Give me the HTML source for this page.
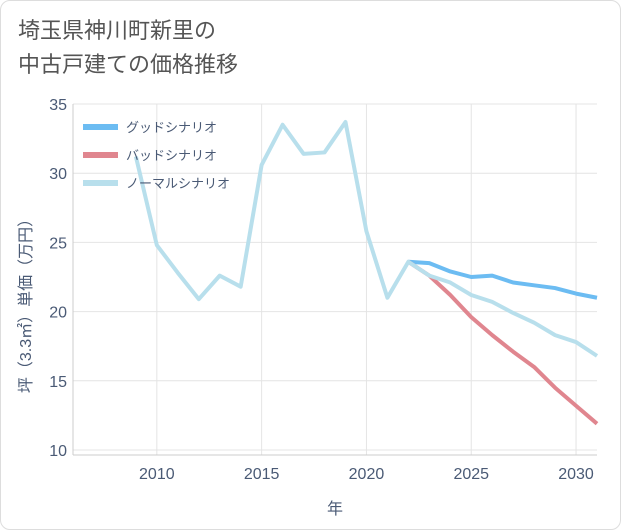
<!DOCTYPE html>
<html><head><meta charset="utf-8"><style>
body{margin:0;background:#fff;}
#wrap{position:relative;width:621px;height:530px;font-family:"Liberation Sans","Noto Sans CJK JP",sans-serif;}
#border{position:absolute;left:0;top:0;width:619px;height:528px;border:1px solid #ddd;border-radius:10px;}
#title{position:absolute;left:18px;top:14px;font-size:22px;line-height:34px;color:#555;}
</style></head><body>
<div id="wrap">
<div id="border"></div>
<div id="title">埼玉県神川町新里の<br>中古戸建ての価格推移</div>
<svg id="chart" width="621" height="530" style="position:absolute;left:0;top:0"></svg>
</div>
<script>
const years=[2009,2010,2011,2012,2013,2014,2015,2016,2017,2018,2019,2020,2021,2022,2023,2024,2025,2026,2027,2028,2029,2030,2031];
const normalVals=[31.2,24.8,22.8,20.9,22.6,21.8,30.6,33.5,31.4,31.5,33.7,25.8,21.0,23.6,22.6,22.1,21.2,20.7,19.9,19.2,18.3,17.8,16.8];
const futureYears=[2022,2023,2024,2025,2026,2027,2028,2029,2030,2031];
const goodVals=[23.6,23.5,22.9,22.5,22.6,22.1,21.9,21.7,21.3,21.0];
const badVals=[23.6,22.6,21.2,19.6,18.3,17.1,16.0,14.5,13.2,11.9];
const xTicks=[2010,2015,2020,2025,2030];
const yTicks=[10,15,20,25,30,35];
const NS="http://www.w3.org/2000/svg";
const svg=document.getElementById('chart');
const X0=73,X1=597,Y0=104,Y1=455;
const x=v=>X0+(v-2006)*(X1-X0)/25;
const y=v=>450-(v-10)*(450-104)/25;
function mk(t,a){const e=document.createElementNS(NS,t);for(const k in a)e.setAttribute(k,a[k]);svg.appendChild(e);return e;}
xTicks.forEach(t=>{const l=mk('line',{x1:x(t),x2:x(t),y1:Y0,y2:Y1,stroke:'#e4e4e4'});

const tx=mk('text',{x:x(t),y:479,'text-anchor':'middle','font-size':16,fill:'#4a5a75'});tx.textContent=t;
});
yTicks.forEach(t=>{const l=mk('line',{x1:X0,x2:X1,y1:y(t),y2:y(t),stroke:'#e4e4e4'});

const tx=mk('text',{x:67,y:y(t)+6,'text-anchor':'end','font-size':16,fill:'#4a5a75'});tx.textContent=t;
});
const ax=mk('line',{x1:X0,x2:X0,y1:Y0,y2:Y1,stroke:'#ccc'});
const ax2=mk('line',{x1:X0,x2:X1,y1:Y1,y2:Y1,stroke:'#ccc'});
const xt=mk('text',{x:335,y:514,'text-anchor':'middle','font-size':16,fill:'#4a5a75'});xt.textContent='年';

const yt=mk('text',{x:0,y:0,'text-anchor':'middle','font-size':16,fill:'#4a5a75',transform:'translate(31,302) rotate(-90)'});yt.textContent='坪（3.3㎡）単価（万円）';

function line(xs,vs,c,name){const p=mk('polyline',{points:xs.map((t,i)=>x(t)+','+y(vs[i])).join(' '),fill:'none',stroke:c,'stroke-width':4,'stroke-linejoin':'round'});
}
const g2=mk('line',{x1:x(2021),y1:y(21.0),x2:x(2022),y2:y(23.6),stroke:'#999','stroke-width':2});

line(futureYears,goodVals,'#6cbcf2','good-scenario-line');
line(futureYears,badVals,'#e0868f','bad-scenario-line');
line(years,normalVals,'#b8dfec','normal-scenario-line');
const leg=[['グッドシナリオ','#6cbcf2'],['バッドシナリオ','#e0868f'],['ノーマルシナリオ','#b8dfec']];
leg.forEach((L,i)=>{const yy=127+i*28;
const s=mk('line',{x1:83,x2:118,y1:yy,y2:yy,stroke:L[1],'stroke-width':6});
const t=mk('text',{x:126,y:yy+5,'font-size':13,fill:'#4a5a75'});t.textContent=L[0];});
</script>
</body></html>
